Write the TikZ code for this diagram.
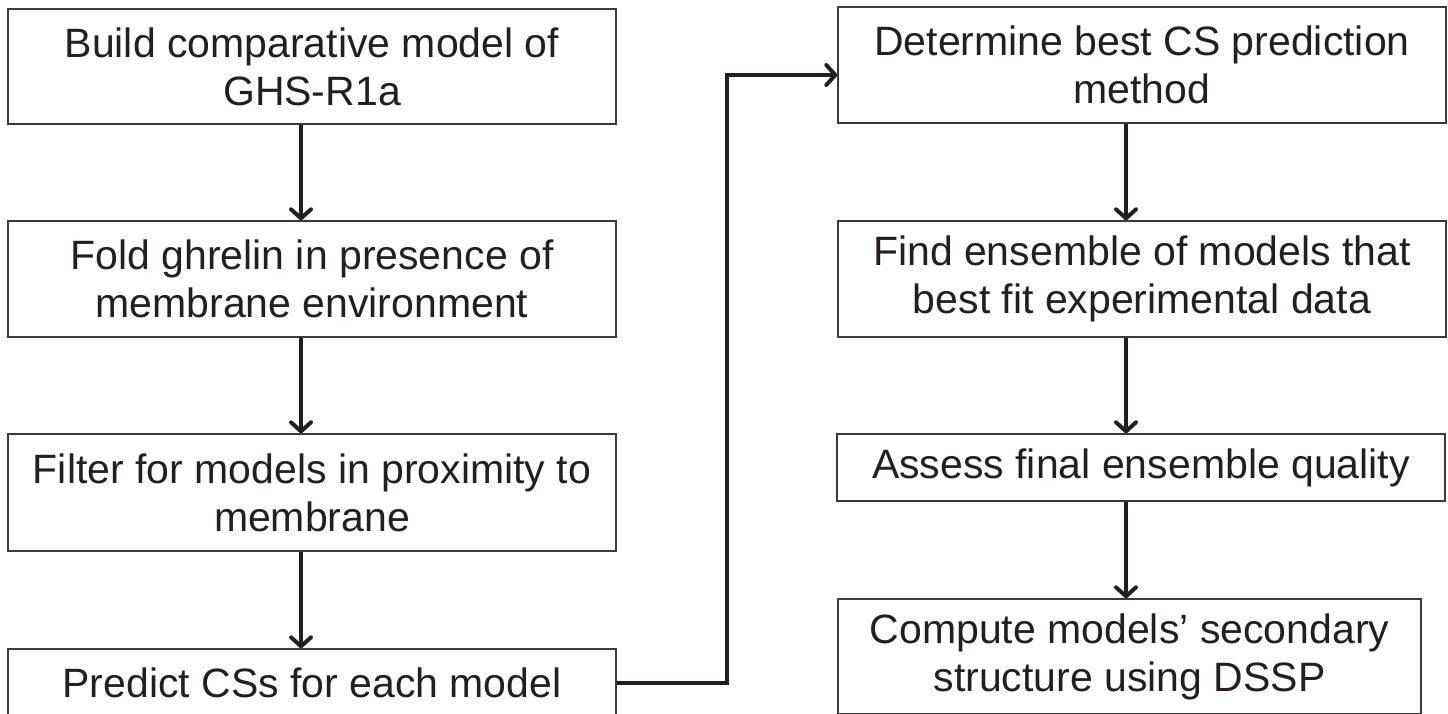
\documentclass[tikz,border=0pt]{standalone}
\usepackage{fontspec}
\setmainfont{Liberation Sans}
\usetikzlibrary{arrows.meta}
\definecolor{ink}{HTML}{231F20}
\definecolor{frame}{HTML}{3A3A3A}
\tikzset{
  stepbox/.style={draw=frame, line width=1.4pt, rectangle, inner sep=0pt,
    text=ink, align=center, font=\fontsize{41}{48}\selectfont},
  arr/.style={draw=ink, line width=4pt,
    -{Straight Barb[length=9pt,width=20pt,line cap=round,line join=round]}},
}
\begin{document}
\begin{tikzpicture}[x=1pt,y=-1pt]
  \useasboundingbox (0,0) rectangle (1448,713);
  \clip (0,0) rectangle (1448,713);
  % left column
  \node[stepbox, minimum width=608pt, minimum height=115pt] (a) at (312,66.5)
    {Build comparative model of\\GHS-R1a};
  \node[stepbox, minimum width=608pt, minimum height=116pt] (b) at (312,279)
    {Fold ghrelin in presence of\\membrane environment};
  \node[stepbox, minimum width=608pt, minimum height=117pt] (c) at (312,492.5)
    {Filter for models in proximity to\\membrane};
  \node[stepbox, minimum width=608pt, minimum height=67pt] (d) at (312,682.5)
    {Predict CSs for each model};
  % right column
  \node[stepbox, minimum width=608pt, minimum height=116pt] (e) at (1142,65)
    {Determine best CS prediction\\method};
  \node[stepbox, minimum width=608pt, minimum height=116pt] (f) at (1142,279)
    {Find ensemble of models that\\best fit experimental data};
  \node[stepbox, minimum width=608pt, minimum height=67pt] (g) at (1141,467.5)
    {Assess final ensemble quality};
  \node[stepbox, minimum width=583pt, minimum height=115pt] (h) at (1129.5,656.5)
    {Compute models’ secondary\\structure using DSSP};
  % arrow lanes
  \coordinate (lx) at (301,0);
  \coordinate (rx) at (1126,0);
  \coordinate (j) at (727,75);
  % connectors
  \draw[arr] (a.south -| lx) -- (b.north -| lx);
  \draw[arr] (b.south -| lx) -- (c.north -| lx);
  \draw[arr] (c.south -| lx) -- (d.north -| lx);
  \draw[arr] (d.east) -| (j) -- (j -| e.west);
  \draw[arr] (e.south -| rx) -- (f.north -| rx);
  \draw[arr] (f.south -| rx) -- (g.north -| rx);
  \draw[arr] (g.south -| rx) -- (h.north -| rx);
\end{tikzpicture}
\end{document}
